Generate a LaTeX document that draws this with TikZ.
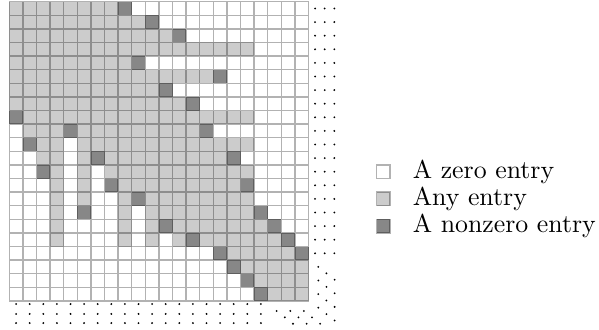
\documentclass[tikz,border=0pt]{standalone}
\usetikzlibrary{positioning}
\tikzset{
  gridline/.style={draw=black, draw opacity=0.3, line width=0.5pt},
  anyentry/.style={fill=black!20},
  nzentry/.style={fill=black!47},
  keybox/.style={rectangle, draw=black, draw opacity=0.3, line width=0.5pt,
                 minimum size=5.27pt, inner sep=0pt},
  keytext/.style={anchor=west, font=\normalsize},
  dotmark/.style={fill=black}
}
\begin{document}
\begin{tikzpicture}[x=5.27pt,y=-5.27pt]
\useasboundingbox (-0.684,-0.125) rectangle (43.36,24.07);

% any entries (row/first/last)
\foreach \r/\a/\b in {1/1/8, 2/1/10, 3/1/12, 4/1/18, 5/1/9, 6/1/15, 7/1/11, 8/1/13,
    9/2/18, 10/2/4, 10/6/14, 11/3/4, 11/6/18, 12/3/4, 12/6/6, 12/8/16,
    13/4/4, 13/6/6, 13/8/18, 14/4/4, 14/6/6, 14/9/17,
    15/4/4, 15/6/6, 15/9/9, 15/11/18, 16/4/4, 16/9/9, 16/11/18,
    17/4/4, 17/9/9, 17/11/11, 17/13/19,
    18/4/4, 18/9/9, 18/11/11, 18/13/13, 18/15/20,
    19/17/21, 20/18/22, 21/19/22, 22/20/22}
  \fill[anyentry] (\a-1,\r-1) rectangle (\b,\r);

% nonzero entries (row/col)
\foreach \r/\c in {1/9, 2/11, 3/13, 5/10, 6/16, 7/12, 8/14, 9/1, 10/5, 10/15,
    11/2, 12/7, 12/17, 13/3, 14/8, 14/18, 15/10, 16/6, 16/19, 17/12, 17/20,
    18/14, 18/21, 19/16, 19/22, 20/17, 21/18, 22/19}
  \fill[nzentry] (\c-1,\r-1) rectangle (\c,\r);

\draw[gridline, step=5.27pt] (0,0) grid (22,22);

% continuation dots
\foreach \r in {1,...,19}
  \foreach \x in {22.48,23.19,23.9}
    \fill[dotmark] (\x,\r-0.5) circle (0.4pt);
\foreach \c in {1,...,19}
  \foreach \y in {22.23,22.96,23.63}
    \fill[dotmark] (\c-0.5,\y) circle (0.4pt);
\foreach \r in {20,...,23}
  \foreach \t in {0,1,2}
    \fill[dotmark] ({22.72+0.6*\t},{\r-0.5+0.47*\t}) circle (0.4pt);
\foreach \c in {20,21,22}
  \foreach \t in {0,1,2}
    \fill[dotmark] ({\c-0.34+0.6*\t},{22.74+0.47*\t}) circle (0.4pt);

% legend
\node[keybox, fill=white] (zerobox) at (27.5,12.5) {};
\node[keybox, anyentry] (anybox) at (27.5,14.5) {};
\node[keybox, nzentry] (nzbox) at (27.5,16.5) {};
\node[keytext] (zerotext) at (29,12.5) {A zero entry};
\node[keytext] (anytext) at (29,14.5) {Any entry};
\node[keytext] (nztext) at (29,16.5) {A nonzero entry};
\end{tikzpicture}
\end{document}
